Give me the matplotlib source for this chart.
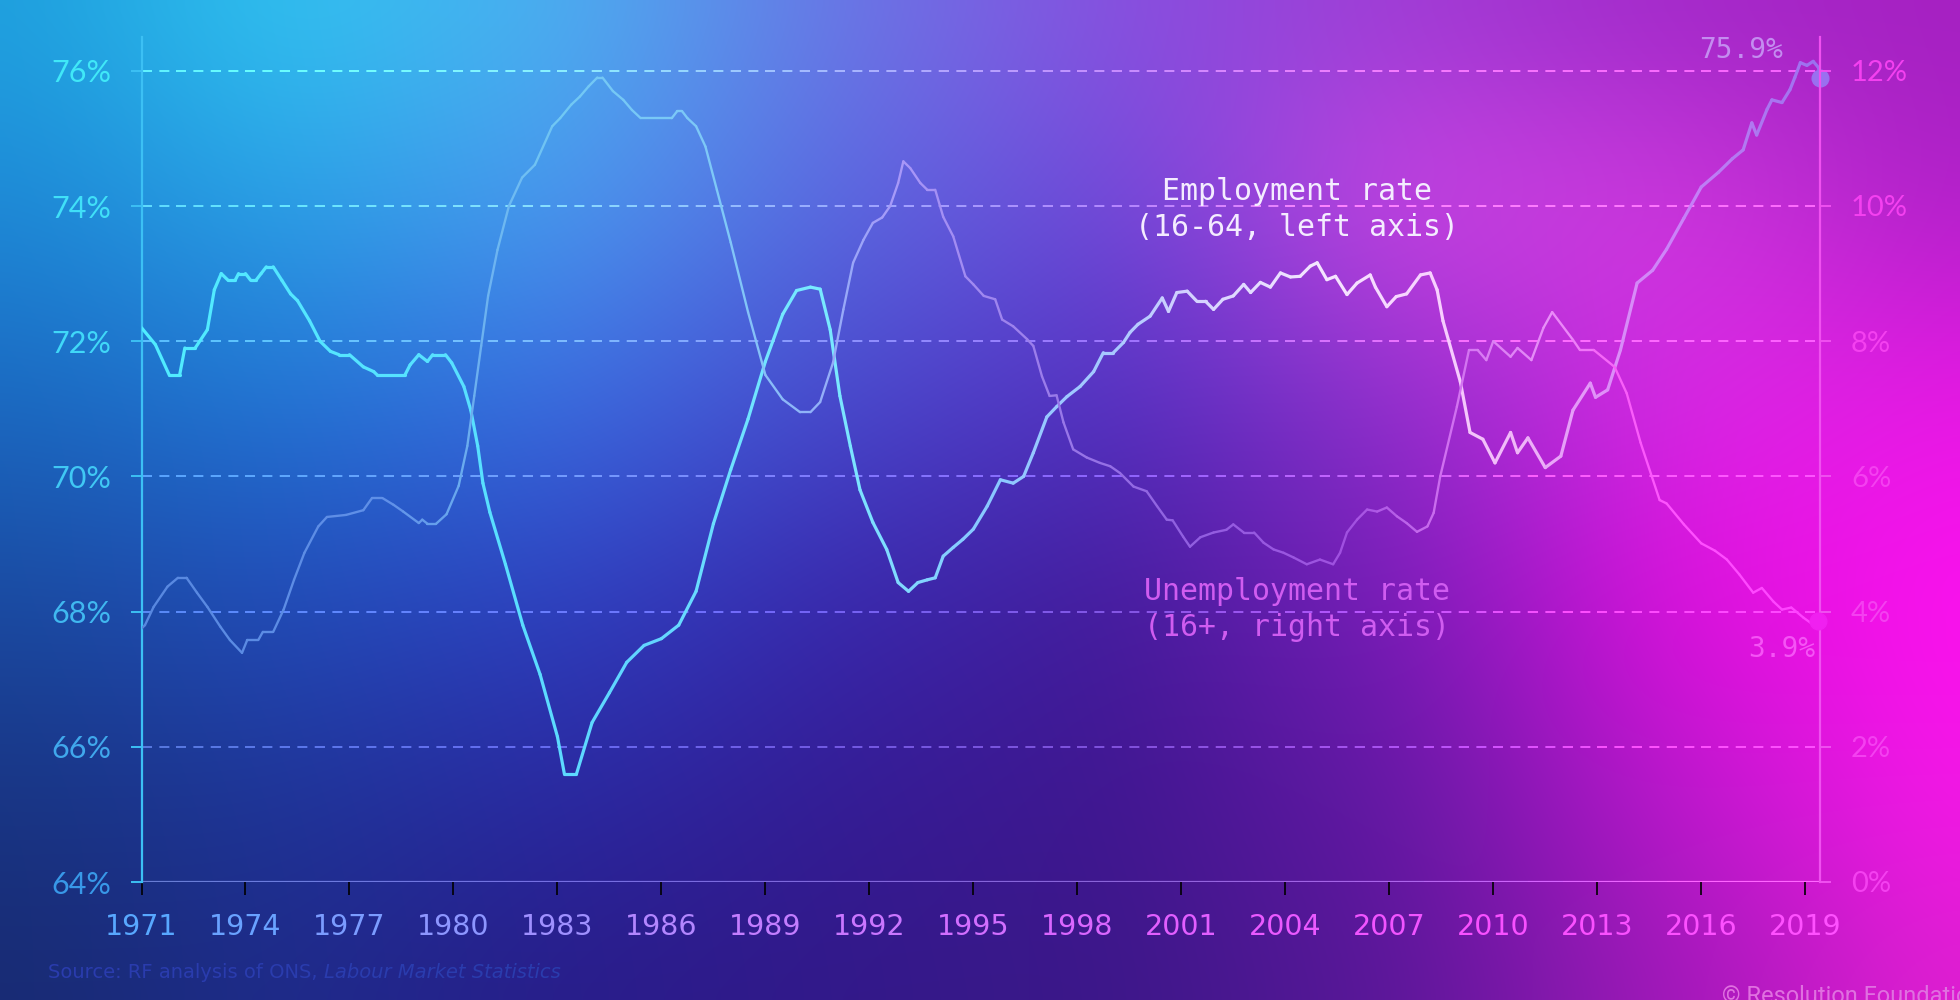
import numpy as np
import matplotlib
matplotlib.use('Agg')
import matplotlib.pyplot as plt
from matplotlib.collections import LineCollection
from matplotlib.colors import LinearSegmentedColormap, to_rgb

# ---- data ----
emp_year = [1971.0, 1971.4, 1971.8, 1972.1, 1972.25, 1972.55, 1972.9, 1973.1, 1973.3, 1973.5,
            1973.7, 1973.8, 1974.0, 1974.15, 1974.3, 1974.45, 1974.6, 1974.8, 1975.05, 1975.3,
            1975.5, 1975.85, 1976.15, 1976.45, 1976.7, 1977.0, 1977.4, 1977.7, 1977.8, 1978.6,
            1978.75, 1979.0, 1979.25, 1979.4, 1979.77, 1979.95, 1980.3, 1980.5, 1980.7, 1980.85,
            1981.05, 1981.5, 1982.0, 1982.5, 1983.0, 1983.2, 1983.55, 1984.0, 1984.5, 1985.0,
            1985.5, 1986.0, 1986.5, 1987.0, 1987.5, 1988.0, 1988.5, 1989.0, 1989.5, 1989.9,
            1990.3, 1990.58, 1990.87, 1991.15, 1991.45, 1991.73, 1992.1, 1992.5, 1992.83, 1993.13,
            1993.4, 1993.67, 1993.9, 1994.13, 1994.42, 1994.7, 1995.0, 1995.4, 1995.78, 1996.15,
            1996.45, 1996.73, 1997.12, 1997.4, 1997.7, 1998.08, 1998.47, 1998.75, 1999.04, 1999.33,
            1999.52, 1999.75, 2000.1, 2000.45, 2000.63, 2000.87, 2001.17, 2001.45, 2001.7, 2001.93,
            2002.2, 2002.5, 2002.8, 2003.0, 2003.28, 2003.57, 2003.86, 2004.15, 2004.43, 2004.72,
            2004.92, 2005.2, 2005.45, 2005.78, 2006.07, 2006.45, 2006.6, 2006.93, 2007.2, 2007.5,
            2007.9, 2008.18, 2008.38, 2008.55, 2009.05, 2009.33, 2009.7, 2010.05, 2010.5, 2010.7,
            2011.0, 2011.5, 2011.95, 2012.3, 2012.8, 2012.95, 2013.3, 2013.67, 2014.15, 2014.6,
            2015.0, 2015.5, 2016.0, 2016.5, 2016.9, 2017.21, 2017.46, 2017.6, 2017.9, 2018.04,
            2018.33, 2018.56, 2018.7, 2018.86, 2019.05, 2019.23, 2019.38, 2019.44]
emp_rate = [72.2, 71.95, 71.5, 71.5, 71.9, 71.9, 72.17, 72.76, 73.0, 72.9,
            72.9, 73.0, 73.0, 72.9, 72.9, 73.0, 73.1, 73.1, 72.9, 72.7,
            72.6, 72.3, 72.0, 71.85, 71.8, 71.8, 71.62, 71.55, 71.5, 71.5,
            71.65, 71.8, 71.7, 71.8, 71.8, 71.68, 71.33, 70.98, 70.45, 69.9,
            69.47, 68.7, 67.8, 67.07, 66.15, 65.6, 65.6, 66.36, 66.8, 67.25,
            67.5, 67.6, 67.8, 68.3, 69.3, 70.1, 70.85, 71.7, 72.4, 72.75,
            72.8, 72.77, 72.17, 71.19, 70.45, 69.8, 69.32, 68.92, 68.43, 68.3,
            68.43, 68.47, 68.5, 68.82, 68.95, 69.07, 69.22, 69.56, 69.95, 69.9,
            70.0, 70.35, 70.88, 71.03, 71.18, 71.33, 71.55, 71.83, 71.83, 71.98,
            72.13, 72.25, 72.37, 72.64, 72.44, 72.72, 72.74, 72.59, 72.59, 72.47,
            72.62, 72.67, 72.84, 72.72, 72.87, 72.8, 73.01, 72.95, 72.96, 73.11,
            73.16, 72.91, 72.96, 72.69, 72.86, 72.98, 72.8, 72.51, 72.66, 72.7,
            72.98, 73.01, 72.76, 72.3, 71.4, 70.65, 70.55, 70.2, 70.65, 70.35,
            70.57, 70.13, 70.3, 70.98, 71.38, 71.17, 71.28, 71.87, 72.86, 73.05,
            73.36, 73.82, 74.28, 74.5, 74.7, 74.83, 75.23, 75.05, 75.43, 75.57,
            75.53, 75.72, 75.9, 76.12, 76.08, 76.14, 76.05, 75.9]

unemp_year = [1971.0, 1971.1, 1971.35, 1971.75, 1972.05, 1972.3, 1972.6, 1972.9, 1973.27, 1973.55,
              1973.9, 1974.05, 1974.37, 1974.5, 1974.8, 1975.1, 1975.4, 1975.7, 1976.1, 1976.35,
              1976.9, 1977.4, 1977.65, 1977.95, 1978.27, 1978.55, 1979.0, 1979.1, 1979.25, 1979.5,
              1979.8, 1980.15, 1980.4, 1980.6, 1980.8, 1981.0, 1981.27, 1981.6, 1981.98, 1982.35,
              1982.85, 1983.08, 1983.4, 1983.65, 1983.9, 1984.15, 1984.3, 1984.6, 1984.9, 1985.15,
              1985.4, 1986.3, 1986.45, 1986.6, 1986.75, 1987.0, 1987.27, 1987.6, 1988.0, 1988.5,
              1989.0, 1989.5, 1990.0, 1990.3, 1990.58, 1990.95, 1991.25, 1991.53, 1991.83, 1992.1,
              1992.37, 1992.6, 1992.83, 1992.98, 1993.18, 1993.47, 1993.67, 1993.9, 1994.13, 1994.42,
              1994.77, 1995.0, 1995.3, 1995.63, 1995.83, 1996.15, 1996.55, 1996.73, 1996.98, 1997.2,
              1997.4, 1997.6, 1997.88, 1998.27, 1998.65, 1998.95, 1999.23, 1999.62, 2000.0, 2000.3,
              2000.58, 2000.75, 2001.05, 2001.25, 2001.55, 2001.93, 2002.3, 2002.5, 2002.8, 2003.1,
              2003.37, 2003.66, 2003.95, 2004.24, 2004.62, 2005.0, 2005.38, 2005.58, 2005.78, 2006.07,
              2006.36, 2006.65, 2006.93, 2007.22, 2007.5, 2007.8, 2008.1, 2008.28, 2008.47, 2008.95,
              2009.3, 2009.55, 2009.8, 2010.0, 2010.5, 2010.7, 2011.1, 2011.45, 2011.7, 2012.3,
              2012.5, 2012.9, 2013.5, 2013.85, 2014.25, 2014.8, 2015.0, 2015.5, 2016.0, 2016.4,
              2016.74, 2017.1, 2017.5, 2017.75, 2018.08, 2018.33, 2018.6, 2018.95, 2019.14, 2019.38]
unemp_rate = [3.75, 3.8, 4.07, 4.37, 4.5, 4.5, 4.28, 4.07, 3.78, 3.58,
              3.39, 3.58, 3.58, 3.7, 3.7, 4.03, 4.47, 4.87, 5.26, 5.4,
              5.43, 5.5, 5.68, 5.68, 5.58, 5.48, 5.31, 5.36, 5.3, 5.3,
              5.44, 5.86, 6.45, 7.19, 7.93, 8.67, 9.35, 10.0, 10.42, 10.61,
              11.18, 11.3, 11.5, 11.62, 11.77, 11.9, 11.9, 11.7, 11.57, 11.42,
              11.3, 11.3, 11.4, 11.4, 11.3, 11.18, 10.88, 10.24, 9.46, 8.43,
              7.5, 7.14, 6.95, 6.95, 7.1, 7.68, 8.47, 9.16, 9.5, 9.75,
              9.83, 10.0, 10.34, 10.66, 10.56, 10.34, 10.24, 10.24, 9.84, 9.55,
              8.96, 8.84, 8.67, 8.62, 8.32, 8.22, 8.03, 7.93, 7.48, 7.19,
              7.2, 6.8, 6.4, 6.28, 6.2, 6.15, 6.05, 5.85, 5.78, 5.56,
              5.36, 5.35, 5.11, 4.96, 5.1, 5.17, 5.21, 5.29, 5.17, 5.17,
              5.02, 4.92, 4.87, 4.8, 4.7, 4.77, 4.7, 4.87, 5.17, 5.36,
              5.51, 5.48, 5.54, 5.41, 5.31, 5.18, 5.26, 5.46, 6.0, 7.03,
              7.87, 7.87, 7.72, 8.0, 7.77, 7.9, 7.72, 8.2, 8.43, 8.02,
              7.87, 7.87, 7.62, 7.23, 6.5, 5.65, 5.6, 5.29, 5.01, 4.9,
              4.77, 4.55, 4.28, 4.35, 4.15, 4.03, 4.06, 3.91, 3.84, 3.86]

year_ticks = list(range(1971, 2020, 3))
left_ticks = [64, 66, 68, 70, 72, 74, 76]
right_ticks = [0, 2, 4, 6, 8, 10, 12]
emp_last = '75.9%'
unemp_last = '3.9%'

# ---- background gradient ----
W, H = 1960, 1000
bg_x = [0, 280, 560, 840, 1120, 1400, 1680, 1960]
bg_y = [0, 200, 400, 600, 800, 1000]
bg_hex = [
    ['#1ea0de', '#30c4f0', '#4cb0f0', '#6a78e6', '#8a50e0', '#9c3cd4', '#a028c8', '#a420c0'],
    ['#1d88d6', '#2aa0e6', '#4a98ee', '#5a68e0', '#7048d8', '#c844e2', '#cc38dc', '#b020c8'],
    ['#1a68c0', '#2274d4', '#3a6ce0', '#4848cc', '#5430c0', '#9030cc', '#d828e4', '#e818e4'],
    ['#1a4aa0', '#224cb8', '#2e40c0', '#3828ac', '#441c9c', '#7a1cb8', '#dc10dc', '#ff10f0'],
    ['#183582', '#1f3498', '#2a28a0', '#341c94', '#401690', '#6418a4', '#bc18cc', '#f818e8'],
    ['#182a70', '#1e2a88', '#281c88', '#321888', '#3c1888', '#5a1898', '#a018b8', '#e020d0'],
]
bg_rgb = np.array([[to_rgb(c) for c in row] for row in bg_hex])


def bg_at(px, py):
    rows = np.array([[np.interp(px, bg_x, bg_rgb[r, :, c]) for c in range(3)]
                     for r in range(len(bg_y))])
    return np.array([np.interp(py, bg_y, rows[:, c]) for c in range(3)])


def blur1d(a, k, axis):
    pad = k // 2
    a = np.moveaxis(a, axis, 0)
    ap = np.concatenate([np.repeat(a[:1], pad, 0), a, np.repeat(a[-1:], pad, 0)], 0)
    cs = np.cumsum(ap, 0)
    cs = np.concatenate([np.zeros_like(cs[:1]), cs], 0)
    return np.moveaxis((cs[k:] - cs[:-k]) / k, 0, axis)


gx = np.linspace(0, W, 196)
gy = np.linspace(0, H, 100)
img = np.zeros((len(gy), len(gx), 3))
for c in range(3):
    tmp = np.array([np.interp(gx, bg_x, bg_rgb[r, :, c]) for r in range(len(bg_y))])
    for j in range(len(gx)):
        img[:, j, c] = np.interp(gy, bg_y, tmp[:, j])
for _ in range(2):
    img = blur1d(img, 15, 0)
    img = blur1d(img, 15, 1)


def light(rgb, k=0.3, s=0.2):
    rgb = np.minimum(1, np.asarray(rgb) / (1 - k))
    return 1 - (1 - rgb) * (1 - s)


fig = plt.figure(figsize=(19.6, 10), dpi=100)
bgax = fig.add_axes([0, 0, 1, 1], zorder=-5)
bgax.imshow(img, extent=[0, W, H, 0], aspect='auto', interpolation='bicubic')
bgax.set_xlim(0, W)
bgax.set_ylim(H, 0)
bgax.axis('off')

# ---- main axes ----
X0, X1 = 1971, 2019.44
ax = fig.add_axes([0.0722, 0.118, 0.8566, 0.845])
ax.patch.set_alpha(0)
ax.set_xlim(X0, X1)
ax.set_ylim(64, 76.5)
ax2 = ax.twinx()
ax2.set_ylim(0, 12.5)
ax2.patch.set_alpha(0)

for a in (ax, ax2):
    for s in a.spines.values():
        s.set_visible(False)
ax.spines['left'].set_visible(True)
ax.spines['left'].set_color('#3cc0f4')
ax.spines['left'].set_linewidth(1.6)
ax2.spines['right'].set_visible(True)
ax2.spines['right'].set_color('#f050f0')
ax2.spines['right'].set_linewidth(1.6)

fig.canvas.draw()


def to_px(a, x, y):
    dx, dy = a.transData.transform((x, y))
    return dx, H - dy


# gridlines, coloured from the background underneath
lw_grid = 1.4
for v in left_ticks:
    xs = np.arange(X0, X1, 1.0)
    segs, cols = [], []
    for x in xs:
        xe = min(x + 1.0, X1)
        segs.append([(x, v), (xe, v)])
        px, py = to_px(ax, (x + xe) / 2, v)
        cols.append(light(bg_at(px, py), 0.3, 0.22 if v > 64 else 0.3))
    ls = '-' if v == 64 else (0, (7.2 / lw_grid, 5.3 / lw_grid))
    ax.add_collection(LineCollection(segs, colors=cols, linewidths=lw_grid if v > 64 else 1.6,
                                     linestyles=ls, zorder=1))


def grad_line(a, xs, ys, cmap, lw, z):
    pts = np.column_stack([xs, ys])
    segs = np.stack([pts[:-1], pts[1:]], axis=1)
    mid = (np.asarray(xs[:-1]) + np.asarray(xs[1:])) / 2
    f = (mid - X0) / (X1 - X0)
    lc = LineCollection(segs, colors=cmap(f), linewidths=lw, capstyle='round',
                        joinstyle='round', zorder=z)
    a.add_collection(lc)


emp_cmap = LinearSegmentedColormap.from_list('emp', [
    (0.0, '#50ecff'), (0.2, '#58e0ff'), (0.3, '#62d4ff'), (0.4, '#78ecff'),
    (0.5, '#88c8ff'), (0.58, '#a8c8ff'), (0.62, '#d0d0ff'), (0.7, '#f4e6ff'),
    (0.77, '#f8d0ff'), (0.82, '#f0b8f8'), (0.87, '#e090f8'), (0.92, '#c880f8'),
    (0.96, '#b078f0'), (1.0, '#9c70f0')])
unemp_cmap = LinearSegmentedColormap.from_list('unemp', [
    (0.0, '#5888e0'), (0.15, '#6090e8'), (0.2, '#6cb0f0'), (0.25, '#70c8f4'),
    (0.35, '#80c8f8'), (0.42, '#98a8f8'), (0.45, '#a898f8'), (0.55, '#9878e8'),
    (0.62, '#9060e0'), (0.72, '#a050e0'), (0.78, '#d070f0'), (0.84, '#e890f8'),
    (0.88, '#f860f8'), (0.92, '#ff50ff'), (1.0, '#ff40ff')])

grad_line(ax2, unemp_year, unemp_rate, unemp_cmap, 1.7, 3)
grad_line(ax, emp_year, emp_rate, emp_cmap, 2.3, 4)
ax.plot(emp_year[-1], emp_rate[-1], 'o', ms=12, color='#9a70f0', zorder=6, clip_on=False)
ax2.plot(unemp_year[-1], unemp_rate[-1], 'o', ms=12, color='#f020f0', zorder=6, clip_on=False)

# ---- ticks ----
narrow = ['Liberation Sans Narrow', 'DejaVu Sans']
ax.set_xticks(year_ticks)
ax.set_xticklabels([str(y) for y in year_ticks], fontsize=20.5, family=narrow)
ax.tick_params(axis='x', direction='out', length=9, width=1.2, pad=13)
xcmap = LinearSegmentedColormap.from_list('xt', [
    (0.0, '#58a8ff'), (0.25, '#a090ff'), (0.35, '#c080ff'), (0.6, '#e060ff'),
    (0.8, '#f850ff'), (1.0, '#ff50ff')])
for t, lab, y in zip(ax.xaxis.get_major_ticks(), ax.get_xticklabels(), year_ticks):
    c = xcmap((y - X0) / (X1 - X0))
    lab.set_color(c)
    t.tick1line.set_color(c)

ax.set_yticks(left_ticks)
ax.set_yticklabels([f'{v}%' for v in left_ticks], fontsize=22, family='Lato')
ax.tick_params(axis='y', direction='out', length=8, width=1.4, pad=14, colors='#3cc0f4')
left_cols = ['#3898e8', '#40a8ec', '#40b8f0', '#40c8f4', '#40d8f8', '#40e0f8', '#40e8f8']
for lab, c in zip(ax.get_yticklabels(), left_cols):
    lab.set_color(c)

ax2.set_yticks(right_ticks)
ax2.set_yticklabels([f'{v}%' for v in right_ticks], fontsize=21, family='Lato')
ax2.tick_params(axis='y', direction='out', length=8, width=1.4, pad=14, colors='#f050f0')
for lab in ax2.get_yticklabels():
    lab.set_color('#f440f0')

# ---- annotations ----
mono = ['DejaVu Sans Mono']
ax.text(2004.35, 73.95, 'Employment rate\n(16-64, left axis)', ha='center', va='center',
        fontsize=21.5, family=mono, color='#f4ecff', linespacing=1.3, zorder=7)
ax2.text(2004.35, 4.03, 'Unemployment rate\n(16+, right axis)', ha='center', va='center',
         fontsize=21.5, family=mono, color='#d05cf0', linespacing=1.3, zorder=7)
ax.text(2017.15, 76.31, emp_last, ha='center', va='center', fontsize=20,
        family=mono, color='#c48cf0', zorder=7, clip_on=False)
ax2.text(2018.33, 3.44, unemp_last, ha='center', va='center', fontsize=20,
         family=mono, color='#f554f5', zorder=7)

src = bgax.text(48, 972, 'Source: RF analysis of ONS, ', ha='left', va='center',
                fontsize=14, family=narrow, color='#2a3cae')
bgax.annotate('Labour Market Statistics', xy=(1, 0.5), xycoords=src, ha='left', va='center',
              fontsize=14, family=narrow, style='italic', color='#2a3cae',
              annotation_clip=False)
bgax.text(1722, 985, '\u00a9 Resolution Foundation', ha='left', va='top', fontsize=17,
          family='Roboto', color='#e070e0', clip_on=False)

fig.savefig('out.png', dpi=100)
